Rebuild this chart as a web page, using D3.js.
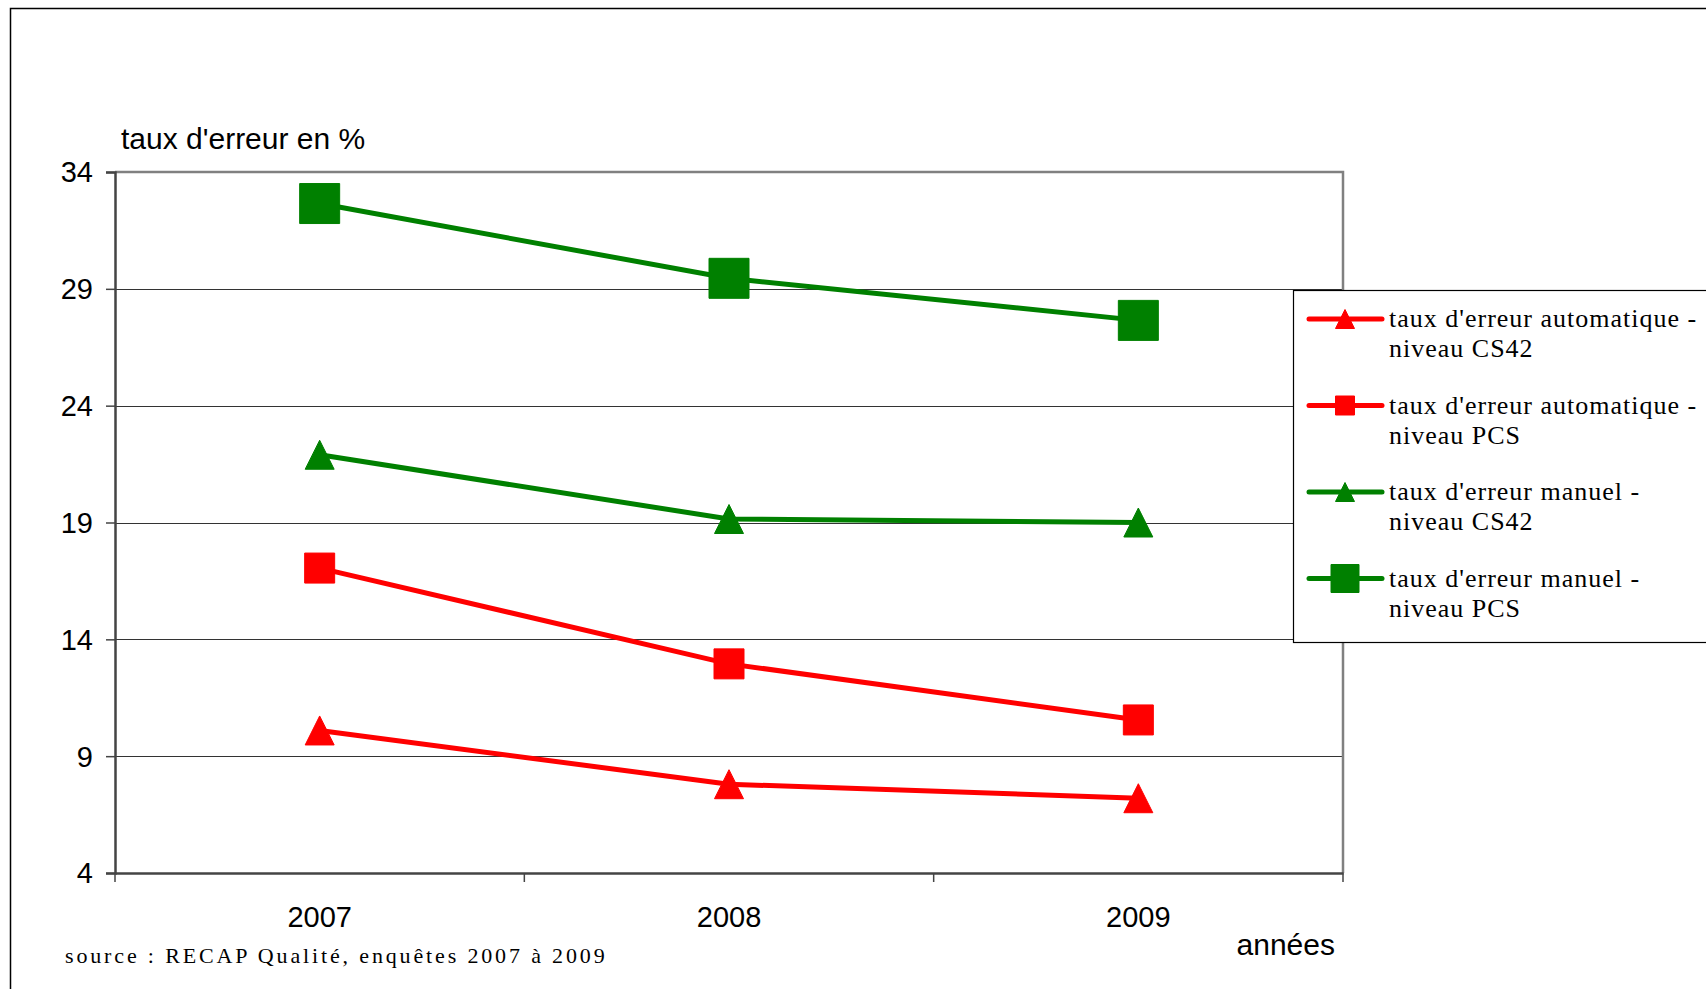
<!DOCTYPE html>
<html>
<head>
<meta charset="utf-8">
<script src="https://cdn.jsdelivr.net/npm/d3@7"></script>
<style>
    body { margin: 0; background: #fff; }
    svg { display: block; }
</style>
</head>
<body>
<div id="chart"></div>
<script>
// data (taux d'erreur en %, by year)
const years = ['2007', '2008', '2009'];
const yTicks = [4, 9, 14, 19, 24, 29, 34];
const autoCS42 = [10.1, 7.8, 7.2];
const autoPCS = [17.05, 12.95, 10.55];
const manuelCS42 = [21.9, 19.15, 19.0];
const manuelPCS = [32.65, 29.45, 27.65];
const seriesNames = [
    ["taux d'erreur automatique -", 'niveau CS42'],
    ["taux d'erreur automatique -", 'niveau PCS'],
    ["taux d'erreur manuel -", 'niveau CS42'],
    ["taux d'erreur manuel -", 'niveau PCS']
];

// styling per series (same order as seriesNames)
const series = [
    { values: autoCS42,   colour: '#ff0000', marker: 'triangle', size: 29, legendSize: 19 },
    { values: autoPCS,    colour: '#ff0000', marker: 'square',   size: 30, legendSize: 19 },
    { values: manuelCS42, colour: '#008000', marker: 'triangle', size: 29, legendSize: 19 },
    { values: manuelPCS,  colour: '#008000', marker: 'square',   size: 40, legendSize: 28 }
];

const W = 1706, H = 989;
const plot = { left: 115, top: 172, right: 1343, bottom: 873 };
const sans = 'Arial, "Liberation Sans", Helvetica, sans-serif';
const serif = '"Times New Roman", "Liberation Serif", serif';

const svg = d3.select('#chart').append('svg')
    .attr('width', W)
    .attr('height', H);

// outer frame (runs off the right and bottom edges)
svg.append('rect')
    .attr('x', 10.5).attr('y', 8.5)
    .attr('width', W + 50).attr('height', H + 50)
    .attr('fill', 'none')
    .attr('stroke', '#000')
    .attr('stroke-width', 1.5);

// scales
const x = d3.scaleBand()
    .domain(years)
    .range([plot.left, plot.right])
    .padding(0);
const y = d3.scaleLinear()
    .domain([4, 34])
    .range([plot.bottom, plot.top]);
const cx = i => x(years[i]) + x.bandwidth() / 2;

// horizontal gridlines
svg.append('g')
    .selectAll('line')
    .data(yTicks.filter(t => t > 4 && t < 34))
    .enter().append('line')
        .attr('x1', plot.left).attr('x2', plot.right)
        .attr('y1', d => Math.round(y(d)) + 0.5)
        .attr('y2', d => Math.round(y(d)) + 0.5)
        .attr('stroke', '#333')
        .attr('stroke-width', 1);

// plot border top + right (grey)
svg.append('path')
    .attr('d', `M${plot.left},${plot.top}H${plot.right}V${plot.bottom}`)
    .attr('fill', 'none')
    .attr('stroke', '#808080')
    .attr('stroke-width', 2.5);

// y axis
const yAxis = d3.axisLeft(y)
    .tickValues(yTicks)
    .tickSize(9)
    .tickPadding(13);
const gy = svg.append('g')
    .attr('transform', `translate(${plot.left}, 0)`)
    .call(yAxis);
gy.select('.domain').attr('stroke', '#444').attr('stroke-width', 2.5);
gy.selectAll('.tick line').attr('stroke', '#444').attr('stroke-width', 1.5);
gy.selectAll('.tick text')
    .attr('font-family', sans)
    .attr('font-size', 29)
    .attr('fill', '#000')
    .attr('dy', '0.34em');

// x axis : labels at band centres, ticks on band boundaries
const xAxis = d3.axisBottom(x)
    .tickSize(0)
    .tickPadding(33);
const gx = svg.append('g')
    .attr('transform', `translate(0, ${plot.bottom})`)
    .call(xAxis);
gx.select('.domain').attr('stroke', '#444').attr('stroke-width', 2.5);
gx.selectAll('.tick text')
    .attr('font-family', sans)
    .attr('font-size', 29)
    .attr('fill', '#000');
gx.selectAll('.boundary')
    .data(years.concat(['end']))
    .enter().append('line')
        .attr('class', 'boundary')
        .attr('x1', (d, i) => plot.left + i * x.step())
        .attr('x2', (d, i) => plot.left + i * x.step())
        .attr('y1', 0).attr('y2', 9)
        .attr('stroke', '#444')
        .attr('stroke-width', 1.5);

// axis titles
svg.append('text')
    .text("taux d'erreur en %")
    .attr('x', 121).attr('y', 149)
    .attr('font-family', sans)
    .attr('font-size', 30);
svg.append('text')
    .text('années')
    .attr('x', 1335).attr('y', 955)
    .attr('text-anchor', 'end')
    .attr('font-family', sans)
    .attr('font-size', 30);

// source note
svg.append('text')
    .text('source : RECAP Qualité, enquêtes 2007 à 2009')
    .attr('x', 65).attr('y', 963)
    .attr('font-family', serif)
    .attr('font-size', 22)
    .attr('letter-spacing', 2.85);

// marker path generator: centred on 0,0
function markerPath(type, s) {
    if (type === 'square') return `M${-s / 2},${-s / 2}h${s}v${s}h${-s}Z`;
    return `M0,${-s / 2}L${s / 2},${s / 2}L${-s / 2},${s / 2}Z`;
}

// lines
const line = d3.line()
    .x((d, i) => cx(i))
    .y(d => y(d));

svg.append('g')
    .selectAll('path')
    .data(series)
    .enter().append('path')
        .attr('d', d => line(d.values))
        .attr('fill', 'none')
        .attr('stroke', d => d.colour)
        .attr('stroke-width', 5);

// markers
series.forEach(s => {
    svg.append('g')
        .selectAll('path')
        .data(s.values)
        .enter().append('path')
            .attr('transform', (d, i) => `translate(${cx(i)}, ${y(d)})`)
            .attr('d', markerPath(s.marker, s.size))
            .attr('fill', s.colour)
            .attr('stroke', s.colour)
            .attr('stroke-width', 1)
            .attr('stroke-linejoin', 'round');
});

// legend
const lg = { left: 1293, top: 290, bottom: 642, first: 319, step: 86.5 };
svg.append('rect')
    .attr('x', lg.left + 0.5).attr('y', lg.top + 0.5)
    .attr('width', W).attr('height', lg.bottom - lg.top)
    .attr('fill', '#fff')
    .attr('stroke', '#000')
    .attr('stroke-width', 1.2);

const entries = svg.append('g')
    .selectAll('g')
    .data(series)
    .enter().append('g')
        .attr('transform', (d, i) => `translate(0, ${lg.first + i * lg.step})`);

entries.append('line')
    .attr('x1', 1309).attr('x2', 1382)
    .attr('y1', 0).attr('y2', 0)
    .attr('stroke', d => d.colour)
    .attr('stroke-width', 5)
    .attr('stroke-linecap', 'round');
entries.append('path')
    .attr('transform', 'translate(1345, 0)')
    .attr('d', d => markerPath(d.marker, d.legendSize))
    .attr('fill', d => d.colour)
    .attr('stroke', d => d.colour)
    .attr('stroke-linejoin', 'round');

const labels = entries.append('text')
    .attr('font-family', serif)
    .attr('font-size', 26)
    .attr('letter-spacing', 1);
labels.append('tspan')
    .attr('x', 1389).attr('y', 8)
    .text((d, i) => seriesNames[i][0]);
labels.append('tspan')
    .attr('x', 1389).attr('y', 38)
    .text((d, i) => seriesNames[i][1]);
</script>
</body>
</html>
